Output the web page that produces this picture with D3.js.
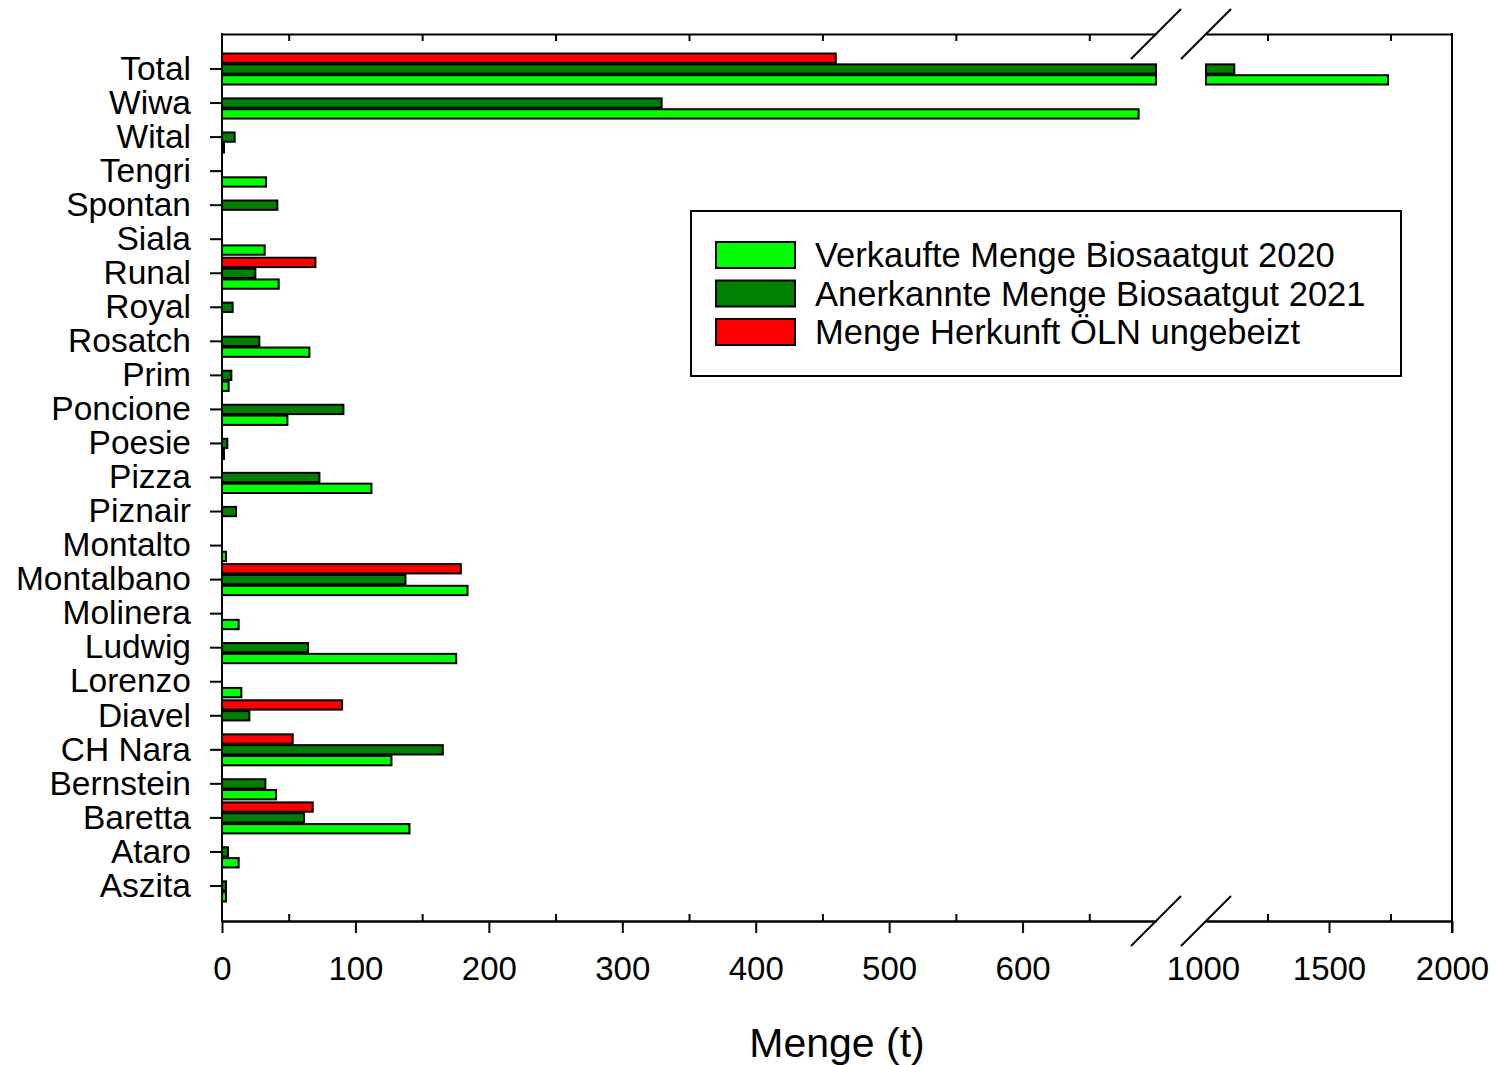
<!DOCTYPE html>
<html>
<head>
<meta charset="utf-8">
<script src="https://cdn.jsdelivr.net/npm/d3@7"></script>
<style>
  body { margin: 0; background: #fff; }
  text { font-family: "Liberation Sans", Arial, sans-serif; fill: #000; }
</style>
</head>
<body>
<div id="chart"></div>
<script>
// ---- data (t) ----
const categories = ['Total', 'Wiwa', 'Wital', 'Tengri', 'Spontan', 'Siala', 'Runal', 'Royal',
  'Rosatch', 'Prim', 'Poncione', 'Poesie', 'Pizza', 'Piznair', 'Montalto', 'Montalbano',
  'Molinera', 'Ludwig', 'Lorenzo', 'Diavel', 'CH Nara', 'Bernstein', 'Baretta', 'Ataro', 'Aszita'];

const sold2020 = [1740, 687, 1.5, 33, 0, 32, 42.5, 0,
  65.5, 5, 49, 1.5, 112, 0, 3, 184,
  12.5, 175.5, 14.5, 0, 127, 40.5, 140.5, 12.5, 3];

const certified2021 = [1115, 329.5, 9.5, 0, 41.5, 0, 25, 8,
  28, 7, 91, 4, 73, 10.5, 0, 137.5,
  0, 64.5, 0, 20.5, 165.5, 32.5, 61.5, 4.5, 3];

const oelnUntreated = [460, 0, 0, 0, 0, 0, 70, 0,
  0, 0, 0, 0, 0, 0, 0, 179,
  0, 0, 0, 90, 53, 0, 68, 0, 0];

const seriesNames = ['Verkaufte Menge Biosaatgut 2020', 'Anerkannte Menge Biosaatgut 2021', 'Menge Herkunft ÖLN ungebeizt'];
const seriesKeys = ['sold', 'cert', 'oeln'];
const seriesColors = ['#00ff00', '#008000', '#ff0000'];

const leftTicks = [0, 100, 200, 300, 400, 500, 600];
const leftMinor = [50, 150, 250, 350, 450, 550, 650];
const rightTicks = [1000, 1500, 2000];
const rightMinor = [1250, 1750];

(function initChart() {
  const W = 1499, H = 1065;
  const top = 34, bottom = 921, left = 222, right = 1452;

  const svg = d3.select('#chart').append('svg')
    .attr('width', W).attr('height', H)
    .attr('viewBox', `0 0 ${W} ${H}`);

  // broken x axis: two linear pieces
  const xL = d3.scaleLinear().domain([0, 700]).range([left, 1156]);
  const xR = d3.scaleLinear().domain([1000, 2000]).range([1206, right]);

  const y = d3.scaleBand().domain(categories).range([52, 903]);
  const ySub = d3.scaleBand().domain(['oeln', 'cert', 'sold'])
    .range([0, y.bandwidth()]).paddingInner(0.14).paddingOuter(0.14);

  const rows = [];
  categories.forEach((c, i) => {
    const vals = { sold: sold2020[i], cert: certified2021[i], oeln: oelnUntreated[i] };
    seriesKeys.forEach((k, j) => {
      const v = vals[k];
      if (!(v > 0)) return;
      const yy = y(c) + ySub(k);
      if (v <= 700) {
        rows.push({ x0: xL(0), x1: xL(v), y: yy, color: seriesColors[j] });
      } else {
        rows.push({ x0: xL(0), x1: xL(700), y: yy, color: seriesColors[j] });
        rows.push({ x0: xR(1000), x1: xR(v), y: yy, color: seriesColors[j] });
      }
    });
  });

  // ----- bars -----
  svg.append('g').attr('class', 'bars')
    .selectAll('rect').data(rows).join('rect')
    .attr('x', d => d.x0)
    .attr('y', d => d.y)
    .attr('width', d => Math.max(0.5, d.x1 - d.x0))
    .attr('height', ySub.bandwidth())
    .attr('fill', d => d.color)
    .attr('stroke', '#000')
    .attr('stroke-width', 2);

  const styleAxis = g => {
    g.selectAll('path.domain').attr('stroke', '#000').attr('stroke-width', 2);
    g.selectAll('.tick line').attr('stroke', '#000').attr('stroke-width', 2);
    g.selectAll('.tick text').attr('font-size', 33)
      .attr('font-family', '"Liberation Sans", Arial, sans-serif');
  };
  const fmt = d3.format('d');

  // ----- bottom axes -----
  svg.append('g').attr('transform', `translate(0,${bottom})`)
    .call(d3.axisBottom(xL).tickValues(leftTicks).tickFormat(fmt).tickSize(12).tickSizeOuter(0).tickPadding(24))
    .call(styleAxis);
  svg.append('g').attr('transform', `translate(0,${bottom})`)
    .call(d3.axisBottom(xL).tickValues(leftMinor).tickSize(-7).tickSizeOuter(0).tickFormat(''))
    .call(styleAxis);

  const gxr = svg.append('g').attr('transform', `translate(0,${bottom})`)
    .call(d3.axisBottom(xR).tickValues(rightTicks).tickFormat(fmt).tickSize(12).tickSizeOuter(0).tickPadding(24))
    .call(styleAxis);
  gxr.selectAll('.tick').filter(d => d === 1000).select('line').remove();
  gxr.selectAll('.tick').filter(d => d === 1000).select('text').attr('x', -3);
  svg.append('g').attr('transform', `translate(0,${bottom})`)
    .call(d3.axisBottom(xR).tickValues(rightMinor).tickSize(-7).tickSizeOuter(0).tickFormat(''))
    .call(styleAxis);

  // ----- top axes (minor ticks only) -----
  svg.append('g').attr('transform', `translate(0,${top})`)
    .call(d3.axisTop(xL).tickValues(leftMinor).tickSize(-7).tickSizeOuter(0).tickFormat(''))
    .call(styleAxis);
  svg.append('g').attr('transform', `translate(0,${top})`)
    .call(d3.axisTop(xR).tickValues(rightMinor).tickSize(-7).tickSizeOuter(0).tickFormat(''))
    .call(styleAxis);

  // ----- y axis -----
  const gy = svg.append('g').attr('transform', `translate(${left},0)`)
    .call(d3.axisLeft(y).tickSize(12).tickSizeOuter(0).tickPadding(19))
    .call(styleAxis);
  gy.select('path.domain').remove();
  gy.selectAll('.tick text').attr('font-size', 33.5);

  // frame sides
  svg.append('line').attr('x1', left).attr('x2', left).attr('y1', top - 1).attr('y2', bottom + 1)
    .attr('stroke', '#000').attr('stroke-width', 2);
  svg.append('line').attr('x1', right).attr('x2', right).attr('y1', top - 1).attr('y2', bottom + 1)
    .attr('stroke', '#000').attr('stroke-width', 2);
  svg.append('line').attr('x1', right).attr('x2', right).attr('y1', bottom).attr('y2', bottom + 12)
    .attr('stroke', '#000').attr('stroke-width', 2);

  // break marks
  const breaks = [];
  [top, bottom].forEach(yy => {
    [xL(700), xR(1000)].forEach(xx => breaks.push({ x: xx, y: yy }));
  });
  svg.append('g').selectAll('line').data(breaks).join('line')
    .attr('x1', d => d.x - 25).attr('y1', d => d.y + 25)
    .attr('x2', d => d.x + 25).attr('y2', d => d.y - 25)
    .attr('stroke', '#000').attr('stroke-width', 2);

  // axis title
  svg.append('text')
    .attr('x', 837).attr('y', 1057)
    .attr('text-anchor', 'middle')
    .attr('font-size', 41)
    .text('Menge (t)');

  // ----- legend -----
  const lg = svg.append('g').attr('transform', 'translate(691,211)');
  lg.append('rect').attr('width', 710).attr('height', 165)
    .attr('fill', '#fff').attr('stroke', '#000').attr('stroke-width', 2);
  const items = lg.selectAll('g.item').data(seriesNames).join('g')
    .attr('class', 'item')
    .attr('transform', (d, i) => `translate(25,${31 + i * 38.5})`);
  items.append('rect')
    .attr('width', 79).attr('height', 26)
    .attr('fill', (d, i) => seriesColors[i])
    .attr('stroke', '#000').attr('stroke-width', 2);
  items.append('text')
    .attr('x', 99).attr('y', 13).attr('dy', '0.35em')
    .attr('font-size', 34.5)
    .text(d => d);
})();
</script>
</body>
</html>
